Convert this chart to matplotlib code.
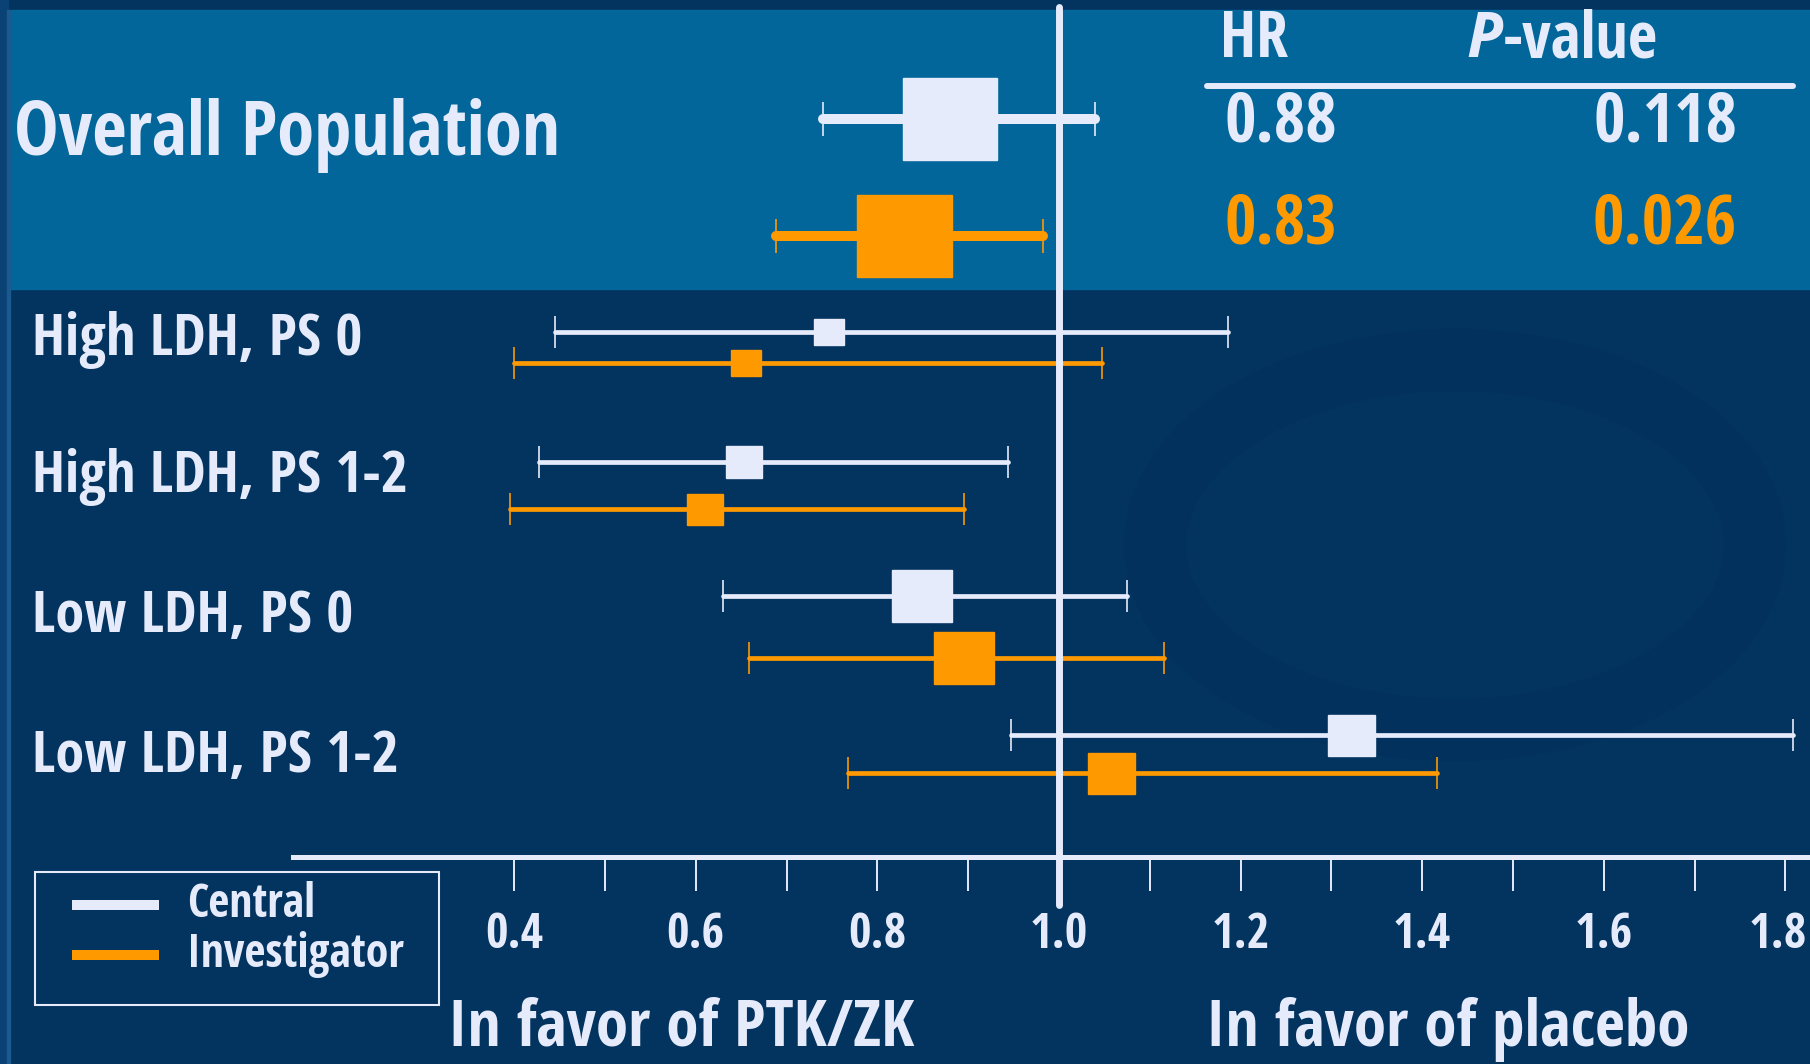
import matplotlib
matplotlib.use("Agg")
import matplotlib.pyplot as plt
from matplotlib.patches import Rectangle, Ellipse
from matplotlib.transforms import Affine2D

# hazard ratios with 95% CI, central review vs investigator assessment
groups = ["Overall Population", "High LDH, PS 0", "High LDH, PS 1-2",
          "Low LDH, PS 0", "Low LDH, PS 1-2"]
central_hr = [0.88, 0.747, 0.653, 0.849, 1.322]
central_lo = [0.74, 0.445, 0.427, 0.630, 0.947]
central_hi = [1.04, 1.186, 0.944, 1.075, 1.808]
invest_hr = [0.83, 0.655, 0.610, 0.895, 1.058]
invest_lo = [0.688, 0.400, 0.395, 0.659, 0.768]
invest_hi = [0.982, 1.047, 0.895, 1.116, 1.416]
# relative weight of each estimate (box size)
central_weight = [82, 26, 32, 52, 41]
invest_weight = [82, 26, 31, 52, 41]
p_values = ["0.118", "0.026"]

tick_values = [0.4, 0.5, 0.6, 0.7, 0.8, 0.9, 1.0, 1.1, 1.2, 1.3, 1.4, 1.5, 1.6, 1.7, 1.8]
tick_labels = ["0.4", "0.6", "0.8", "1.0", "1.2", "1.4", "1.6", "1.8"]
label_ticks = [0.4, 0.6, 0.8, 1.0, 1.2, 1.4, 1.6, 1.8]

# layout (pixel rows, top = 0)
W, H = 1810, 1064
X0, XS = 151, 908          # pixel of HR=0, pixels per HR unit
central_y = [119, 332, 462, 596, 735]
invest_y = [236, 363, 509, 658, 773]
label_base = [155, 355, 492, 632, 772]

NAVY = "#03335f"
BAND = "#03669a"
WHITE = "#e6ebfb"
ORANGE = "#ff9900"
FONT = ["Open Sans Condensed", "DejaVu Sans"]

fig = plt.figure(figsize=(W / 100, H / 100), dpi=100, facecolor=NAVY)
ax = fig.add_axes([0, 0, 1, 1])
ax.set_xlim((0 - X0) / XS, (W - X0) / XS)
ax.set_ylim(H, 0)
ax.axis("off")
px = Affine2D().scale(1 / W, -1 / H).translate(0, 1) + fig.transFigure

# background
ax.add_patch(Rectangle((0, 0), W, H, color=NAVY, transform=px, zorder=0))
ax.add_patch(Ellipse((1455, 545), 600, 370, fill=False, ec="#022b55", lw=45,
                     alpha=0.15, transform=px, zorder=0))
ax.add_patch(Rectangle((10, 10), W, 279, color=BAND, transform=px, zorder=0))
ax.add_patch(Rectangle((0, 0), 8, H, color="#0a4275", transform=px, zorder=0))
ax.add_patch(Rectangle((7, 10), 3, H, color="#1a5a8e", transform=px, zorder=0))


def forest_row(hr, lo, hi, y, weight, color, lw, cap):
    ax.plot([lo, hi], [y, y], color=color, lw=lw, solid_capstyle="round", zorder=2)
    ax.vlines([lo, hi], y - cap / 2, y + cap / 2, color=color, lw=1.2, zorder=2)
    w = weight * 1.15 / XS
    ax.add_patch(Rectangle((hr - w / 2, y - weight / 2), w, weight,
                           color=color, zorder=4))


for i in range(len(groups)):
    lw = 7.2 if i == 0 else 3.4
    cap = 34 if i == 0 else 32
    forest_row(central_hr[i], central_lo[i], central_hi[i], central_y[i],
               central_weight[i], WHITE, lw, cap)
    forest_row(invest_hr[i], invest_lo[i], invest_hi[i], invest_y[i],
               invest_weight[i], ORANGE, lw, cap)
    size = 54 if i == 0 else 42
    x = 14 if i == 0 else 32
    ax.text(x, label_base[i], groups[i], transform=px, color=WHITE, fontsize=size,
            fontweight="bold", family=FONT, va="baseline", ha="left")

# reference line at HR = 1
ax.plot([1.0, 1.0], [7, 905], color=WHITE, lw=5, solid_capstyle="round", zorder=3)

# x axis
ax.plot([(293 - X0) / XS, (W - X0) / XS], [857, 857], color=WHITE, lw=3.6, zorder=2)
ax.vlines(tick_values, 858, 891, color=WHITE, lw=1.4, zorder=2)
x_edge = (W - 3 - X0) / XS
for v, s in zip(label_ticks, tick_labels):
    t = ax.text(v, 948, s, color=WHITE, fontsize=35, fontweight="bold", family=FONT,
                ha="center", va="baseline")
    # keep the last label inside the figure
    fig.canvas.draw()
    if t.get_window_extent().x1 > W - 3:
        t.set_x(x_edge)
        t.set_ha("right")

# HR / P-value table
ax.plot([1207, 1793], [86, 86], transform=px, color=WHITE, lw=4.3,
        solid_capstyle="round")
ax.text(1220, 57, "HR", transform=px, color=WHITE, fontsize=46, fontweight="bold",
        family=FONT, va="baseline")
p_txt = ax.text(1466, 57, "P", transform=px, color=WHITE, fontsize=45,
                fontweight="bold", style="italic", family=["Open Sans", "DejaVu Sans"],
                va="baseline")
fig.canvas.draw()
bb = p_txt.get_window_extent()
ax.text(bb.x1, H - 57, "-value", transform=None, color=WHITE, fontsize=46,
        fontweight="bold", family=FONT, va="baseline")
ax.text(1224, 142, f"{central_hr[0]:.2f}", transform=px, color=WHITE, fontsize=49,
        fontweight="bold", family=FONT, va="baseline")
ax.text(1737, 142, p_values[0], transform=px, color=WHITE, fontsize=49,
        fontweight="bold", family=FONT, va="baseline", ha="right")
ax.text(1224, 244, f"{invest_hr[0]:.2f}", transform=px, color=ORANGE, fontsize=49,
        fontweight="bold", family=FONT, va="baseline")
ax.text(1737, 244, p_values[1], transform=px, color=ORANGE, fontsize=49,
        fontweight="bold", family=FONT, va="baseline", ha="right")

# legend
ax.add_patch(Rectangle((35, 872), 404, 133, fill=False, ec=WHITE, lw=1.5,
                       transform=px, zorder=2))
ax.plot([72, 159], [905, 905], transform=px, color=WHITE, lw=7.2, solid_capstyle="butt")
ax.plot([72, 159], [955, 955], transform=px, color=ORANGE, lw=7.2, solid_capstyle="butt")
ax.text(187, 917, "Central", transform=px, color=WHITE, fontsize=33,
        fontweight="bold", family=FONT, va="baseline")
ax.text(187, 967, "Investigator", transform=px, color=WHITE, fontsize=33,
        fontweight="bold", family=FONT, va="baseline")

# direction labels
ax.text(448, 1046, "In favor of PTK/ZK", transform=px, color=WHITE, fontsize=47,
        fontweight="bold", family=FONT, va="baseline")
ax.text(1206, 1046, "In favor of placebo", transform=px, color=WHITE, fontsize=47,
        fontweight="bold", family=FONT, va="baseline")

fig.savefig("out.png", dpi=100, facecolor=NAVY)
